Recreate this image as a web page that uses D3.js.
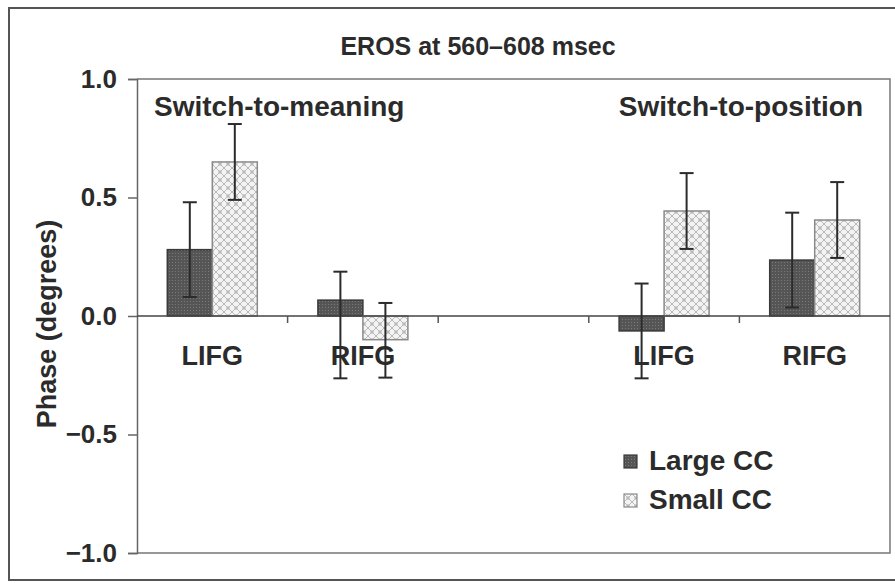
<!DOCTYPE html>
<html>
<head>
<meta charset="utf-8">
<script src="https://cdn.jsdelivr.net/npm/d3@7"></script>
<style>
  body { margin: 0; background: #fff; }
  svg { display: block; font-family: "Liberation Sans", Arial, sans-serif; }
  .lbl { font-weight: bold; fill: #2b2b2b; }
</style>
</head>
<body>
<svg id="chart" width="895" height="583"></svg>
<script>
const categories = ["LIFG", "RIFG", "", "LIFG", "RIFG"];
const seriesNames = ["Large CC", "Small CC"];
const largeValues = [0.28, 0.067, null, -0.063, 0.236];
const smallValues = [0.65, -0.10, null, 0.443, 0.405];
const largeErrUp = [0.2, 0.12, null, 0.2, 0.2];
const largeErrDown = [0.2, 0.33, null, 0.2, 0.2];
const smallErrUp = [0.16, 0.155, null, 0.16, 0.16];
const smallErrDown = [0.16, 0.16, null, 0.16, 0.16];
const yTicks = [1.0, 0.5, 0.0, -0.5, -1.0];
const groupLabels = ["Switch-to-meaning", "Switch-to-position"];

const svg = d3.select("#chart");
const plot = { left: 137, right: 890, top: 79, bottom: 553 };

const defs = svg.append("defs");
const pDark = defs.append("pattern").attr("id", "darkPat")
  .attr("width", 3).attr("height", 3).attr("patternUnits", "userSpaceOnUse");
pDark.append("rect").attr("width", 3).attr("height", 3).attr("fill", "#555");
pDark.append("rect").attr("x", 1).attr("y", 1).attr("width", 1).attr("height", 1).attr("fill", "#7a7a7a");

const pLight = defs.append("pattern").attr("id", "lightPat")
  .attr("width", 8).attr("height", 8).attr("patternUnits", "userSpaceOnUse");
pLight.append("rect").attr("width", 8).attr("height", 8).attr("fill", "#f4f4f4");
pLight.append("path").attr("d", "M0,0 L8,8 M8,0 L0,8")
  .attr("stroke", "#b8b8b8").attr("stroke-width", 1).attr("fill", "none");
pLight.append("circle").attr("cx", 4).attr("cy", 4).attr("r", 1.6).attr("fill", "none")
  .attr("stroke", "#c8c8c8").attr("stroke-width", 0.8);

// outer frame
svg.append("rect").attr("x", 9).attr("y", 8).attr("width", 900).attr("height", 572)
  .attr("fill", "none").attr("stroke", "#555").attr("stroke-width", 2);

const y = d3.scaleLinear().domain([-1, 1]).range([plot.bottom, plot.top]);
const x = d3.scaleBand().domain(d3.range(categories.length)).range([plot.left, plot.right]).padding(0);
const xs = d3.scaleBand().domain(seriesNames).range([0, 90]).padding(0);

// plot box (top, right, bottom)
svg.append("path")
  .attr("d", `M${plot.left},${plot.top}H${plot.right}V${plot.bottom}H${plot.left}`)
  .attr("fill", "none").attr("stroke", "#777").attr("stroke-width", 1.5);

// y axis
const yAxis = svg.append("g").attr("transform", `translate(${plot.left},0)`)
  .call(d3.axisLeft(y).tickValues(yTicks).tickSize(9).tickPadding(11)
    .tickFormat(d => d < 0 ? "\u2212" + d3.format(".1f")(-d) : d3.format(".1f")(d)));
yAxis.select(".domain").attr("stroke", "#666").attr("stroke-width", 1.5);
yAxis.selectAll(".tick line").attr("stroke", "#666").attr("stroke-width", 1.5);
yAxis.selectAll(".tick text").attr("class", "lbl").style("font-size", "26px");

const series = [
  { name: "Large CC", vals: largeValues, up: largeErrUp, down: largeErrDown, fill: "url(#darkPat)", stroke: "#3a3a3a" },
  { name: "Small CC", vals: smallValues, up: smallErrUp, down: smallErrDown, fill: "url(#lightPat)", stroke: "#8a8a8a" }
];

const barData = [];
series.forEach(s => {
  s.vals.forEach((v, i) => {
    if (v === null) return;
    barData.push({ i, v, up: s.up[i], down: s.down[i], s });
  });
});

const bx = d => x(d.i) + x.bandwidth() / 2 - 45 + xs(d.s.name);

svg.selectAll(".bar").data(barData).join("rect")
  .attr("class", "bar")
  .attr("x", bx)
  .attr("y", d => y(Math.max(0, d.v)))
  .attr("width", xs.bandwidth())
  .attr("height", d => Math.abs(y(d.v) - y(0)))
  .attr("fill", d => d.s.fill)
  .attr("stroke", d => d.s.stroke)
  .attr("stroke-width", 1.5);

// zero line with category ticks
svg.append("line").attr("x1", plot.left).attr("x2", plot.right)
  .attr("y1", y(0)).attr("y2", y(0)).attr("stroke", "#444").attr("stroke-width", 1.5);
svg.selectAll(".xtick").data(d3.range(1, categories.length)).join("line")
  .attr("x1", d => x(d)).attr("x2", d => x(d))
  .attr("y1", y(0)).attr("y2", y(0) + 7)
  .attr("stroke", "#555").attr("stroke-width", 1.5);

// category labels
svg.selectAll(".cat").data(categories.map((c, i) => ({ c, i })).filter(d => d.c)).join("text")
  .attr("class", "lbl")
  .attr("x", d => x(d.i) + x.bandwidth() / 2)
  .attr("y", y(0) + 49)
  .attr("text-anchor", "middle")
  .style("font-size", "27px")
  .text(d => d.c);

// error bars
const eb = svg.selectAll(".err").data(barData).join("g").attr("class", "err")
  .attr("stroke", "#2b2b2b").attr("stroke-width", 2);
eb.append("line")
  .attr("x1", d => bx(d) + xs.bandwidth() / 2).attr("x2", d => bx(d) + xs.bandwidth() / 2)
  .attr("y1", d => y(d.v + d.up)).attr("y2", d => y(d.v - d.down));
eb.append("line")
  .attr("x1", d => bx(d) + xs.bandwidth() / 2 - 7).attr("x2", d => bx(d) + xs.bandwidth() / 2 + 7)
  .attr("y1", d => y(d.v + d.up)).attr("y2", d => y(d.v + d.up));
eb.append("line")
  .attr("x1", d => bx(d) + xs.bandwidth() / 2 - 7).attr("x2", d => bx(d) + xs.bandwidth() / 2 + 7)
  .attr("y1", d => y(d.v - d.down)).attr("y2", d => y(d.v - d.down));

// group labels
svg.append("text").attr("class", "lbl").attr("x", 154).attr("y", 116)
  .style("font-size", "28px").text(groupLabels[0]);
svg.append("text").attr("class", "lbl").attr("x", 863).attr("y", 116)
  .attr("text-anchor", "end").style("font-size", "28px").text(groupLabels[1]);

// title
svg.append("text").attr("class", "lbl").attr("x", 478).attr("y", 55)
  .attr("text-anchor", "middle").style("font-size", "25px").text("EROS at 560\u2013608 msec");

// y label
svg.append("text").attr("class", "lbl")
  .attr("transform", `translate(56,${y(0) + 8}) rotate(-90)`)
  .attr("text-anchor", "middle").style("font-size", "27px").text("Phase (degrees)");

// legend
const legend = svg.selectAll(".leg").data(series).join("g")
  .attr("transform", (d, i) => `translate(624,${455 + i * 39})`);
legend.append("rect").attr("width", 13).attr("height", 13)
  .attr("fill", d => d.fill).attr("stroke", d => d.stroke).attr("stroke-width", 1.2);
legend.append("text").attr("class", "lbl").attr("x", 25).attr("y", 15)
  .style("font-size", "28px").text(d => d.name);
</script>
</body>
</html>
